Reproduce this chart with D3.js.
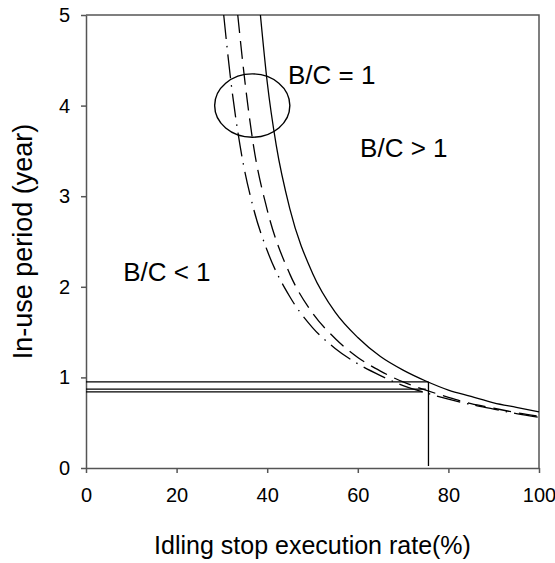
<!DOCTYPE html>
<meta charset="utf-8">
<html>
<head>
  <style>
    body { margin: 0; background: #fff; }
    svg { display: block; font-family: Arial, "Liberation Sans", sans-serif; }
    .curve { fill: none; stroke: #000; stroke-width: 1.3px; }
    .axis path, .axis line { stroke: #555; stroke-width: 1.5px; }
    .axis text { font-size: 20px; fill: #000; font-family: Arial, "Liberation Sans", sans-serif; }
  </style>
  <script src="https://d3js.org/d3.v7.min.js"></script>
</head>
<body>
  <svg width="555" height="563"></svg>
  <script>
    // values
    var xTicks = [0, 20, 40, 60, 80, 100];
    var yTicks = [0, 1, 2, 3, 4, 5];

    // solid curve
    var solidX = [38.5, 40, 42, 45, 50, 55, 60, 65, 70, 75, 80, 85, 90, 95, 100];
    var solidY = [5.0, 4.26, 3.56, 2.86, 2.15, 1.72, 1.44, 1.23, 1.08, 0.96, 0.86, 0.79, 0.72, 0.67, 0.62];

    // dashed curve
    var dashX = [33.5, 35, 37, 40, 45, 50, 55, 60, 65, 70, 75, 80, 85, 90, 95, 100];
    var dashY = [5.0, 4.30, 3.55, 2.85, 2.14, 1.71, 1.43, 1.22, 1.07, 0.95, 0.86, 0.78, 0.71, 0.66, 0.61, 0.57];

    // dash-dot curve
    var dotX = [30.4, 32, 34, 37, 40, 45, 50, 55, 60, 65, 70, 75, 80, 85, 90, 95, 100];
    var dotY = [5.0, 4.26, 3.56, 2.86, 2.40, 1.89, 1.55, 1.32, 1.15, 1.02, 0.91, 0.83, 0.76, 0.70, 0.65, 0.60, 0.56];

    // break-even lines
    var levelY = [0.95, 0.87, 0.84];
    var levelEndX = [75.6, 75.0, 74.4];
    var rateX = 75.6;

    var labels = ["B/C = 1", "B/C > 1", "B/C < 1"];

    var svg = d3.select("svg");
    var margin = {top: 15, right: 16, bottom: 95, left: 86};
    var width = 555 - margin.left - margin.right;
    var height = 563 - margin.top - margin.bottom;

    var x = d3.scaleLinear().domain([0, 100]).range([0, width]);
    var y = d3.scaleLinear().domain([0, 5]).range([height, 0]);

    var g = svg.append("g")
        .attr("transform", "translate(" + margin.left + "," + margin.top + ")");

    // frame (top and right)
    g.append("path")
      .attr("d", "M0," + y(5) + "H" + x(100) + "V" + y(0))
      .attr("fill", "none")
      .attr("stroke", "#555")
      .attr("stroke-width", 1.5);

    g.append("g")
      .attr("class", "axis")
      .attr("transform", "translate(0," + height + ")")
      .call(d3.axisBottom(x).tickValues(xTicks).tickFormat(d3.format("d"))
        .tickSize(5).tickPadding(15).tickSizeOuter(0));

    g.append("g")
      .attr("class", "axis")
      .call(d3.axisLeft(y).tickValues(yTicks).tickFormat(d3.format("d"))
        .tickSize(5).tickPadding(11).tickSizeOuter(0));

    var line = d3.line()
      .x(function(d) { return x(d[0]); })
      .y(function(d) { return y(d[1]); })
      .curve(d3.curveMonotoneX);

    g.append("path").attr("class", "curve")
      .attr("d", line(d3.zip(solidX, solidY)));
    g.append("path").attr("class", "curve")
      .attr("stroke-dasharray", "18,8")
      .attr("d", line(d3.zip(dashX, dashY)));
    g.append("path").attr("class", "curve")
      .attr("stroke-dasharray", "24,7,1.5,7")
      .attr("d", line(d3.zip(dotX, dotY)));

    // horizontal and vertical guide lines
    g.selectAll(".level")
      .data(levelY)
      .enter().append("line")
        .attr("class", "curve")
        .attr("x1", x(0))
        .attr("x2", function(d, i) { return x(levelEndX[i]); })
        .attr("y1", function(d) { return y(d); })
        .attr("y2", function(d) { return y(d); });

    g.append("line").attr("class", "curve")
      .attr("x1", x(rateX)).attr("x2", x(rateX))
      .attr("y1", y(0) - 2).attr("y2", y(levelY[0]));

    // ellipse around the curves
    g.append("ellipse")
      .attr("cx", x(36.7)).attr("cy", y(4.0))
      .attr("rx", x(36.7 + 8.3) - x(36.7))
      .attr("ry", y(4.0 - 0.35) - y(4.0))
      .attr("fill", "none").attr("stroke", "#000").attr("stroke-width", 1.4);

    // annotations
    var labelPos = [[44.6, 4.24], [60.5, 3.43], [8.2, 2.06]];
    g.selectAll(".label")
      .data(labels)
      .enter().append("text")
        .attr("x", function(d, i) { return x(labelPos[i][0]); })
        .attr("y", function(d, i) { return y(labelPos[i][1]); })
        .style("font-size", "26px")
        .text(function(d) { return d; });

    // axis titles
    svg.append("text")
      .attr("x", margin.left + width / 2)
      .attr("y", 554)
      .attr("text-anchor", "middle")
      .style("font-size", "25px")
      .text("Idling stop execution rate(%)");

    svg.append("text")
      .attr("transform", "translate(32," + (margin.top + height / 2) + ") rotate(-90)")
      .attr("text-anchor", "middle")
      .style("font-size", "27px")
      .text("In-use period (year)");
  </script>
</body>
</html>
